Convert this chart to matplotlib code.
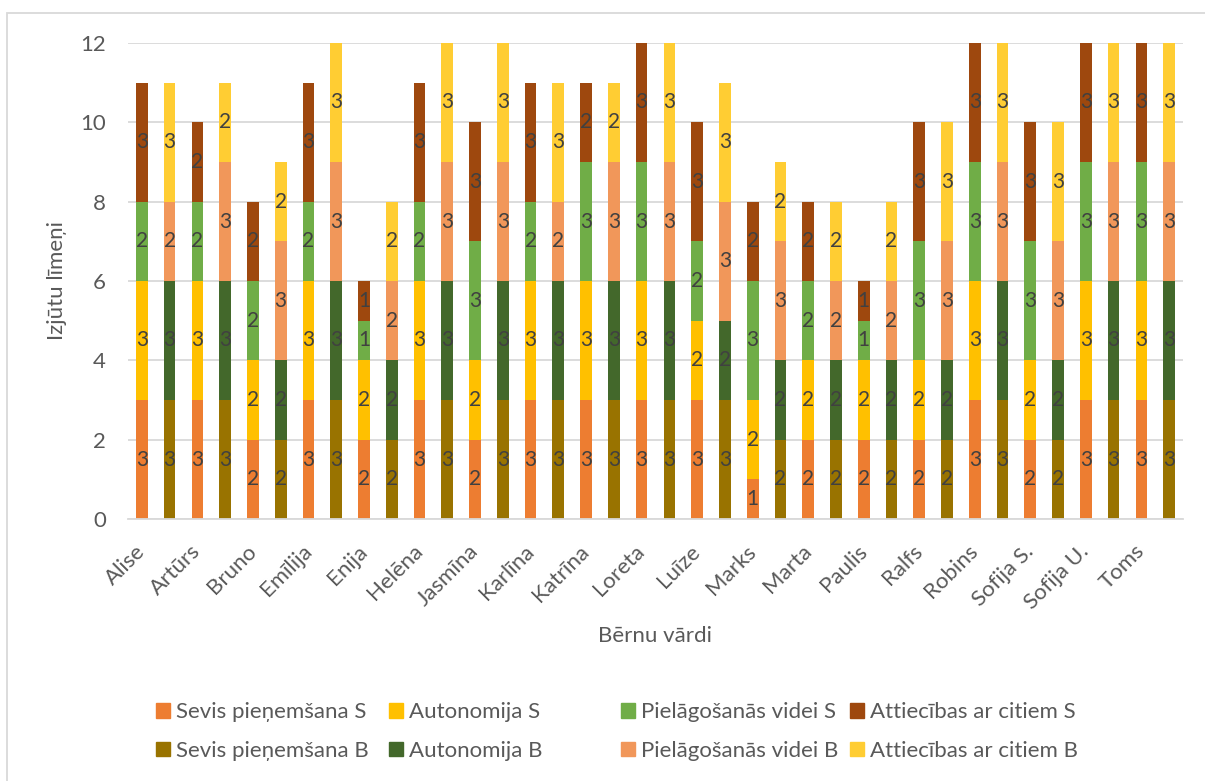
import numpy as np
import matplotlib
matplotlib.use("Agg")
import matplotlib.pyplot as plt
from matplotlib.patches import Patch, Rectangle

plt.rcParams['font.family'] = ['Lato', 'DejaVu Sans']

names = ['Alise', 'Artūrs', 'Bruno', 'Emīlija', 'Enija', 'Helēna', 'Jasmīna',
         'Karlīna', 'Katrīna', 'Loreta', 'Luīze', 'Marks', 'Marta', 'Paulis',
         'Ralfs', 'Robins', 'Sofija S.', 'Sofija U.', 'Toms']

# S stabiņi
sevis_s = [3, 3, 2, 3, 2, 3, 2, 3, 3, 3, 3, 1, 2, 2, 2, 3, 2, 3, 3]
autonomija_s = [3, 3, 2, 3, 2, 3, 2, 3, 3, 3, 2, 2, 2, 2, 2, 3, 2, 3, 3]
pielag_s = [2, 2, 2, 2, 1, 2, 3, 2, 3, 3, 2, 3, 2, 1, 3, 3, 3, 3, 3]
attiec_s = [3, 2, 2, 3, 1, 3, 3, 3, 2, 3, 3, 2, 2, 1, 3, 3, 3, 3, 3]

# B stabiņi
sevis_b = [3, 3, 2, 3, 2, 3, 3, 3, 3, 3, 3, 2, 2, 2, 2, 3, 2, 3, 3]
autonomija_b = [3, 3, 2, 3, 2, 3, 3, 3, 3, 3, 2, 2, 2, 2, 2, 3, 2, 3, 3]
pielag_b = [2, 3, 3, 3, 2, 3, 3, 2, 3, 3, 3, 3, 2, 2, 3, 3, 3, 3, 3]
attiec_b = [3, 2, 2, 3, 2, 3, 3, 3, 2, 3, 3, 2, 2, 2, 3, 3, 3, 3, 3]

series_s = [('Sevis pieņemšana S', sevis_s, '#ED7D31'),
            ('Autonomija S', autonomija_s, '#FFC000'),
            ('Pielāgošanās videi S', pielag_s, '#70AD47'),
            ('Attiecības ar citiem S', attiec_s, '#9E480E')]
series_b = [('Sevis pieņemšana B', sevis_b, '#997300'),
            ('Autonomija B', autonomija_b, '#43682B'),
            ('Pielāgošanās videi B', pielag_b, '#F1975A'),
            ('Attiecības ar citiem B', attiec_b, '#FFCD33')]

fig = plt.figure(figsize=(12.05, 7.81), dpi=100)
ax = fig.add_axes([128 / 1205, 1 - 519 / 781, 1055 / 1205, 476 / 781])

idx = np.arange(len(names))
x_s = idx * 2
x_b = idx * 2 + 1
w = 0.42

for xs, series in ((x_s, series_s), (x_b, series_b)):
    bottom = np.zeros(len(names))
    for label, vals, col in series:
        vals = np.array(vals)
        bars = ax.bar(xs, vals, w, bottom=bottom, color=col, label=label,
                      edgecolor='none', zorder=2)
        ax.bar_label(bars, labels=[str(v) for v in vals], label_type='center',
                     fontsize=15, color='#404040')
        bottom += vals

ax.set_xlim(-0.5, 2 * len(names) - 0.5)
ax.set_ylim(0, 12)
ax.set_yticks(np.arange(0, 13, 2))
ax.yaxis.grid(True, color='#D9D9D9', lw=1.3)
ax.set_axisbelow(True)
for s in ['top', 'right', 'left']:
    ax.spines[s].set_visible(False)
ax.spines['bottom'].set_color('#D9D9D9')
ax.spines['bottom'].set_linewidth(1.3)
ax.tick_params(axis='both', length=0, labelsize=16, colors='#595959')
ax.tick_params(axis='y', pad=16)

ax.set_xticks(x_s)
ax.set_xticklabels(names, rotation=45, ha='right', va='center',
                   rotation_mode='anchor')
ax.tick_params(axis='x', pad=21)

ax.set_ylabel('Izjūtu līmeņi', fontsize=16, color='#595959')
ax.yaxis.set_label_coords(-0.067, 0.5)
ax.yaxis.label.set_va('center')
ax.set_xlabel('Bērnu vārdi', fontsize=16, color='#595959')
ax.xaxis.set_label_coords(0.5, -0.246)
ax.xaxis.label.set_va('center')

# leģenda: četras kolonnas, katrā S un B rinda
col_x = [156, 389, 621, 850]
for cx, (ls, _, cs), (lb, _, cb) in zip(col_x, series_s, series_b):
    handles = [Patch(color=cs, label=ls), Patch(color=cb, label=lb)]
    leg = fig.legend(handles=handles, loc='center left',
                     bbox_to_anchor=(cx / 1205, 1 - 731.5 / 781),
                     frameon=False, fontsize=16, handlelength=0.63,
                     handleheight=0.63, handletextpad=0.27, labelspacing=0.82,
                     borderaxespad=0, borderpad=0)
    for t in leg.get_texts():
        t.set_color('#595959')

fig.patches.append(Rectangle((7 / 1205, -0.01), 1.1, 1 - 13 / 781 + 0.01,
                             transform=fig.transFigure, fill=False,
                             edgecolor='#D9D9D9', lw=1.3))

fig.savefig('out.png', dpi=100)
